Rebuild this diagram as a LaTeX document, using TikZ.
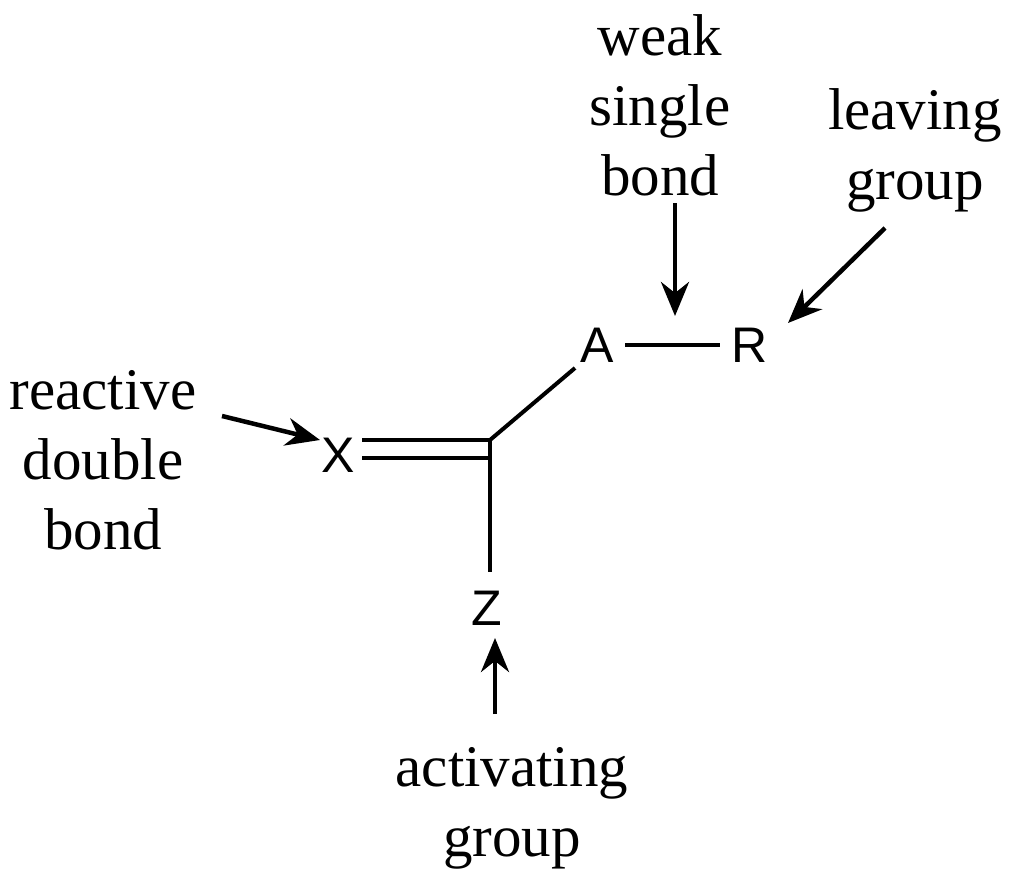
\documentclass[tikz,border=0pt]{standalone}
\usepackage{fontspec}
\setmainfont{Liberation Serif}
\newfontfamily\atomfont{Liberation Sans}
\usetikzlibrary{arrows.meta}
\begin{document}
\begin{tikzpicture}[x=1pt,y=-1pt,
  lbl/.style={align=center,font=\fontsize{59}{70}\selectfont,inner sep=0pt},
  atom/.style={font=\atomfont\fontsize{50}{50}\selectfont,inner sep=0pt},
  bond/.style={line width=4pt},
  arr/.style={line width=4.5pt,-{Stealth[length=34pt,width=28pt]}}]
\useasboundingbox (0,0) rectangle (1024,888);
\node[atom] (X) at (338,455) {X};
\node[atom] (A) at (597,345) {A};
\node[atom] (R) at (750,345) {R};
\node[atom] (Z) at (487,608) {Z};
\coordinate (C) at (490,448);
\draw[bond] (362,440) -- (490,440);
\draw[bond] (362,458) -- (490,458);
\draw[bond] (490,440) -- (490,572);
\draw[bond] (490,440) -- (575,368);
\draw[bond] (625,345) -- (720,345);
\node[lbl] (weak) at (660,105) {weak\\single\\bond};
\node[lbl] (leav) at (915,150) {leaving\\group};
\node[lbl] (react) at (103,460) {reactive\\double\\bond};
\node[lbl] (act) at (512,808) {activating\\group};
\coordinate (t1) at (675,203);
\coordinate (h1) at (675,316);
\coordinate (t2) at (885,228);
\coordinate (h2) at (788,323);
\coordinate (t3) at (222,416);
\coordinate (h3) at (320,440);
\coordinate (t4) at (495,714);
\coordinate (h4) at (495,638);
\draw[arr] (t1) -- (h1);
\draw[arr] (t2) -- (h2);
\draw[arr] (t3) -- (h3);
\draw[arr] (t4) -- (h4);
\end{tikzpicture}
\end{document}
